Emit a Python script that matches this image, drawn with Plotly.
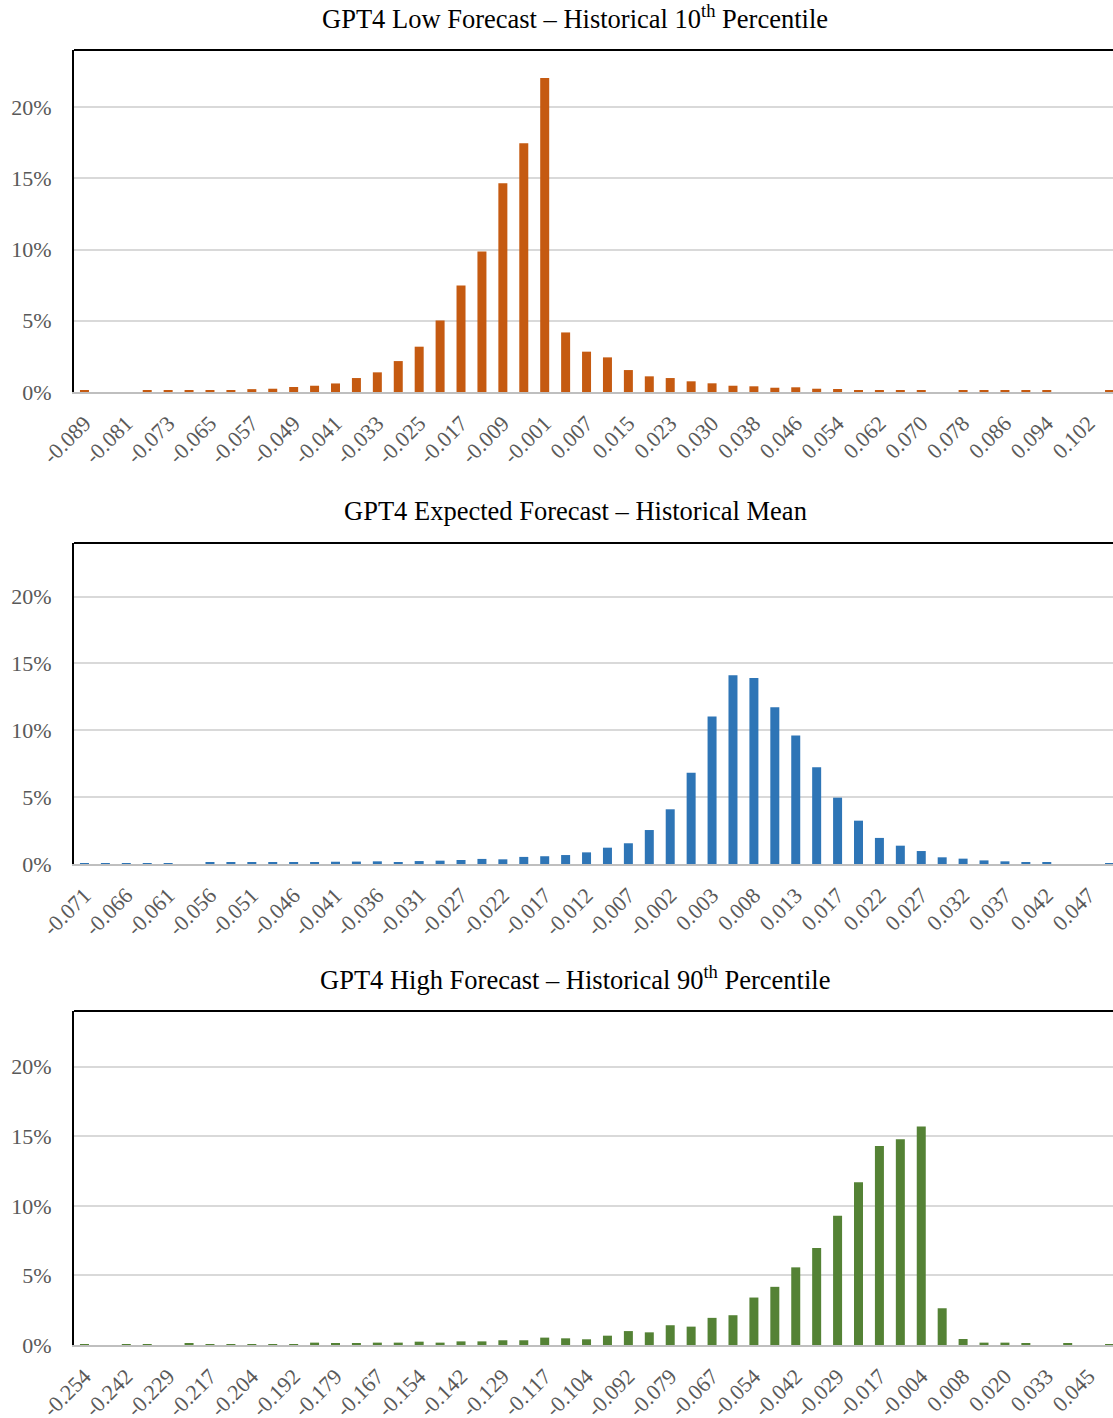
import plotly.graph_objects as go

# ---------------- data ----------------
# Chart 1: GPT4 Low Forecast – Historical 10th Percentile
low_labels = ["-0.089", "-0.081", "-0.073", "-0.065", "-0.057", "-0.049", "-0.041", "-0.033",
              "-0.025", "-0.017", "-0.009", "-0.001", "0.007", "0.015", "0.023", "0.030",
              "0.038", "0.046", "0.054", "0.062", "0.070", "0.078", "0.086", "0.094", "0.102"]
low_between = ["-0.085", "-0.077", "-0.069", "-0.061", "-0.053", "-0.045", "-0.037", "-0.029",
               "-0.021", "-0.013", "-0.005", "0.003", "0.011", "0.019", "0.027", "0.034",
               "0.042", "0.050", "0.058", "0.066", "0.074", "0.082", "0.090", "0.098", "0.106"]
low_values = [0.10, 0, 0, 0.10, 0.10, 0.10, 0.12, 0.12, 0.20, 0.23,
              0.35, 0.44, 0.60, 0.98, 1.38, 2.17, 3.18, 5.02, 7.48, 9.86,
              14.65, 17.45, 22.03, 4.18, 2.83, 2.43, 1.54, 1.10, 0.98, 0.75,
              0.61, 0.44, 0.40, 0.30, 0.33, 0.23, 0.21, 0.10, 0.10, 0.10,
              0.10, 0, 0.10, 0.10, 0.10, 0.10, 0.10, 0, 0, 0.10]

# Chart 2: GPT4 Expected Forecast – Historical Mean
mean_labels = ["-0.071", "-0.066", "-0.061", "-0.056", "-0.051", "-0.046", "-0.041", "-0.036",
               "-0.031", "-0.027", "-0.022", "-0.017", "-0.012", "-0.007", "-0.002", "0.003",
               "0.008", "0.013", "0.017", "0.022", "0.027", "0.032", "0.037", "0.042", "0.047"]
mean_between = ["-0.069", "-0.064", "-0.059", "-0.054", "-0.049", "-0.044", "-0.039", "-0.034",
                "-0.029", "-0.024", "-0.020", "-0.015", "-0.010", "-0.005", "0.000", "0.005",
                "0.010", "0.015", "0.020", "0.025", "0.030", "0.035", "0.040", "0.044", "0.052"]
mean_values = [0.05, 0.05, 0.05, 0.05, 0.05, 0, 0.08, 0.10, 0.08, 0.10,
               0.12, 0.12, 0.17, 0.18, 0.20, 0.15, 0.22, 0.25, 0.30, 0.38,
               0.35, 0.53, 0.58, 0.67, 0.87, 1.22, 1.55, 2.54, 4.09, 6.83,
               11.02, 14.11, 13.90, 11.72, 9.60, 7.23, 4.96, 3.24, 1.95, 1.37,
               0.97, 0.50, 0.40, 0.27, 0.20, 0.15, 0.10, 0, 0, 0.05]

# Chart 3: GPT4 High Forecast – Historical 90th Percentile
high_labels = ["-0.254", "-0.242", "-0.229", "-0.217", "-0.204", "-0.192", "-0.179", "-0.167",
               "-0.154", "-0.142", "-0.129", "-0.117", "-0.104", "-0.092", "-0.079", "-0.067",
               "-0.054", "-0.042", "-0.029", "-0.017", "-0.004", "0.008", "0.020", "0.033", "0.045"]
high_between = ["-0.248", "-0.236", "-0.223", "-0.210", "-0.198", "-0.185", "-0.173", "-0.160",
                "-0.148", "-0.135", "-0.123", "-0.111", "-0.098", "-0.086", "-0.073", "-0.061",
                "-0.048", "-0.036", "-0.023", "-0.011", "0.002", "0.014", "0.027", "0.039", "0.051"]
high_values = [0.05, 0, 0.05, 0.05, 0, 0.10, 0.07, 0.07, 0.07, 0.07,
               0.07, 0.17, 0.10, 0.10, 0.17, 0.17, 0.24, 0.17, 0.26, 0.26,
               0.34, 0.34, 0.53, 0.48, 0.41, 0.67, 1.00, 0.91, 1.42, 1.32,
               1.95, 2.14, 3.41, 4.18, 5.58, 6.97, 9.28, 11.70, 14.30, 14.78,
               15.70, 2.64, 0.43, 0.17, 0.17, 0.10, 0, 0.10, 0, 0.05]

titles = ["GPT4 Low Forecast – Historical 10<sup>th</sup> Percentile",
          "GPT4 Expected Forecast – Historical Mean",
          "GPT4 High Forecast – Historical 90<sup>th</sup> Percentile"]
colors = ["#C55A11", "#2E75B6", "#548235"]

# ---------------- layout geometry (pixels) ----------------
W, H = 1113, 1418
plot_left = 74
panels = [  # (top_px, bottom_px, title_y_px)
    (50, 392, 17),
    (543, 864, 511),
    (1011, 1345, 978),
]
SERIF = "Liberation Serif, Times New Roman, serif"
GRAY = "#595959"

fig = go.Figure()
datasets = [(low_labels, low_between, low_values),
            (mean_labels, mean_between, mean_values),
            (high_labels, high_between, high_values)]

pitch = 20.92
x_hi = (W - plot_left) / pitch - 0.5

for i, ((shown, between, vals), (top, bot, ty)) in enumerate(zip(datasets, panels)):
    cats = [c for pair in zip(shown, between) for c in pair]
    sfx = "" if i == 0 else str(i + 1)
    fig.add_trace(go.Bar(
        x=cats, y=[v / 100 for v in vals],
        marker=dict(color=colors[i], line=dict(width=0)),
        xaxis="x" + sfx, yaxis="y" + sfx, showlegend=False,
    ))
    ydom = [(H - bot) / H, (H - top) / H]
    fig.layout["xaxis" + sfx] = dict(
        domain=[plot_left / W, 1.0], anchor="y" + sfx,
        type="category", categoryorder="array", categoryarray=cats,
        range=[-0.5, x_hi],
        tickmode="array", tickvals=shown, ticktext=shown,
        tickangle=-45, tickfont=dict(family=SERIF, size=22, color=GRAY),
        ticklabelstandoff=8,
        showline=True, linecolor="#BFBFBF", linewidth=1.5,
        showgrid=False, ticks="", zeroline=False, automargin=False,
    )
    fig.layout["yaxis" + sfx] = dict(
        domain=ydom, anchor="x" + sfx,
        range=[0, 0.24], tickvals=[0, 0.05, 0.10, 0.15, 0.20], tickformat=".0%",
        tickfont=dict(family=SERIF, size=22, color=GRAY),
        showgrid=True, gridcolor="#D9D9D9", gridwidth=1.5,
        showline=True, linecolor="#000000", linewidth=2,
        ticks="", ticklabelstandoff=16, zeroline=False, automargin=False,
    )
    # top border of the plot area
    fig.add_shape(type="line", xref="x" + sfx + " domain", yref="y" + sfx + " domain",
                  x0=0, x1=1, y0=1, y1=1, line=dict(color="#000000", width=2))
    fig.add_annotation(text=titles[i], xref="paper", yref="paper",
                       x=575 / W, y=(H - ty) / H, xanchor="center", yanchor="middle",
                       showarrow=False, font=dict(family=SERIF, size=26.5, color="#000000"))

fig.update_layout(
    width=W, height=H,
    margin=dict(l=0, r=0, t=0, b=0),
    paper_bgcolor="white", plot_bgcolor="white",
    bargap=0.57,
)

fig.write_html("out.html",
               config={"displayModeBar": False},
               post_script="document.body.style.margin='0';document.body.style.overflow='hidden';")
